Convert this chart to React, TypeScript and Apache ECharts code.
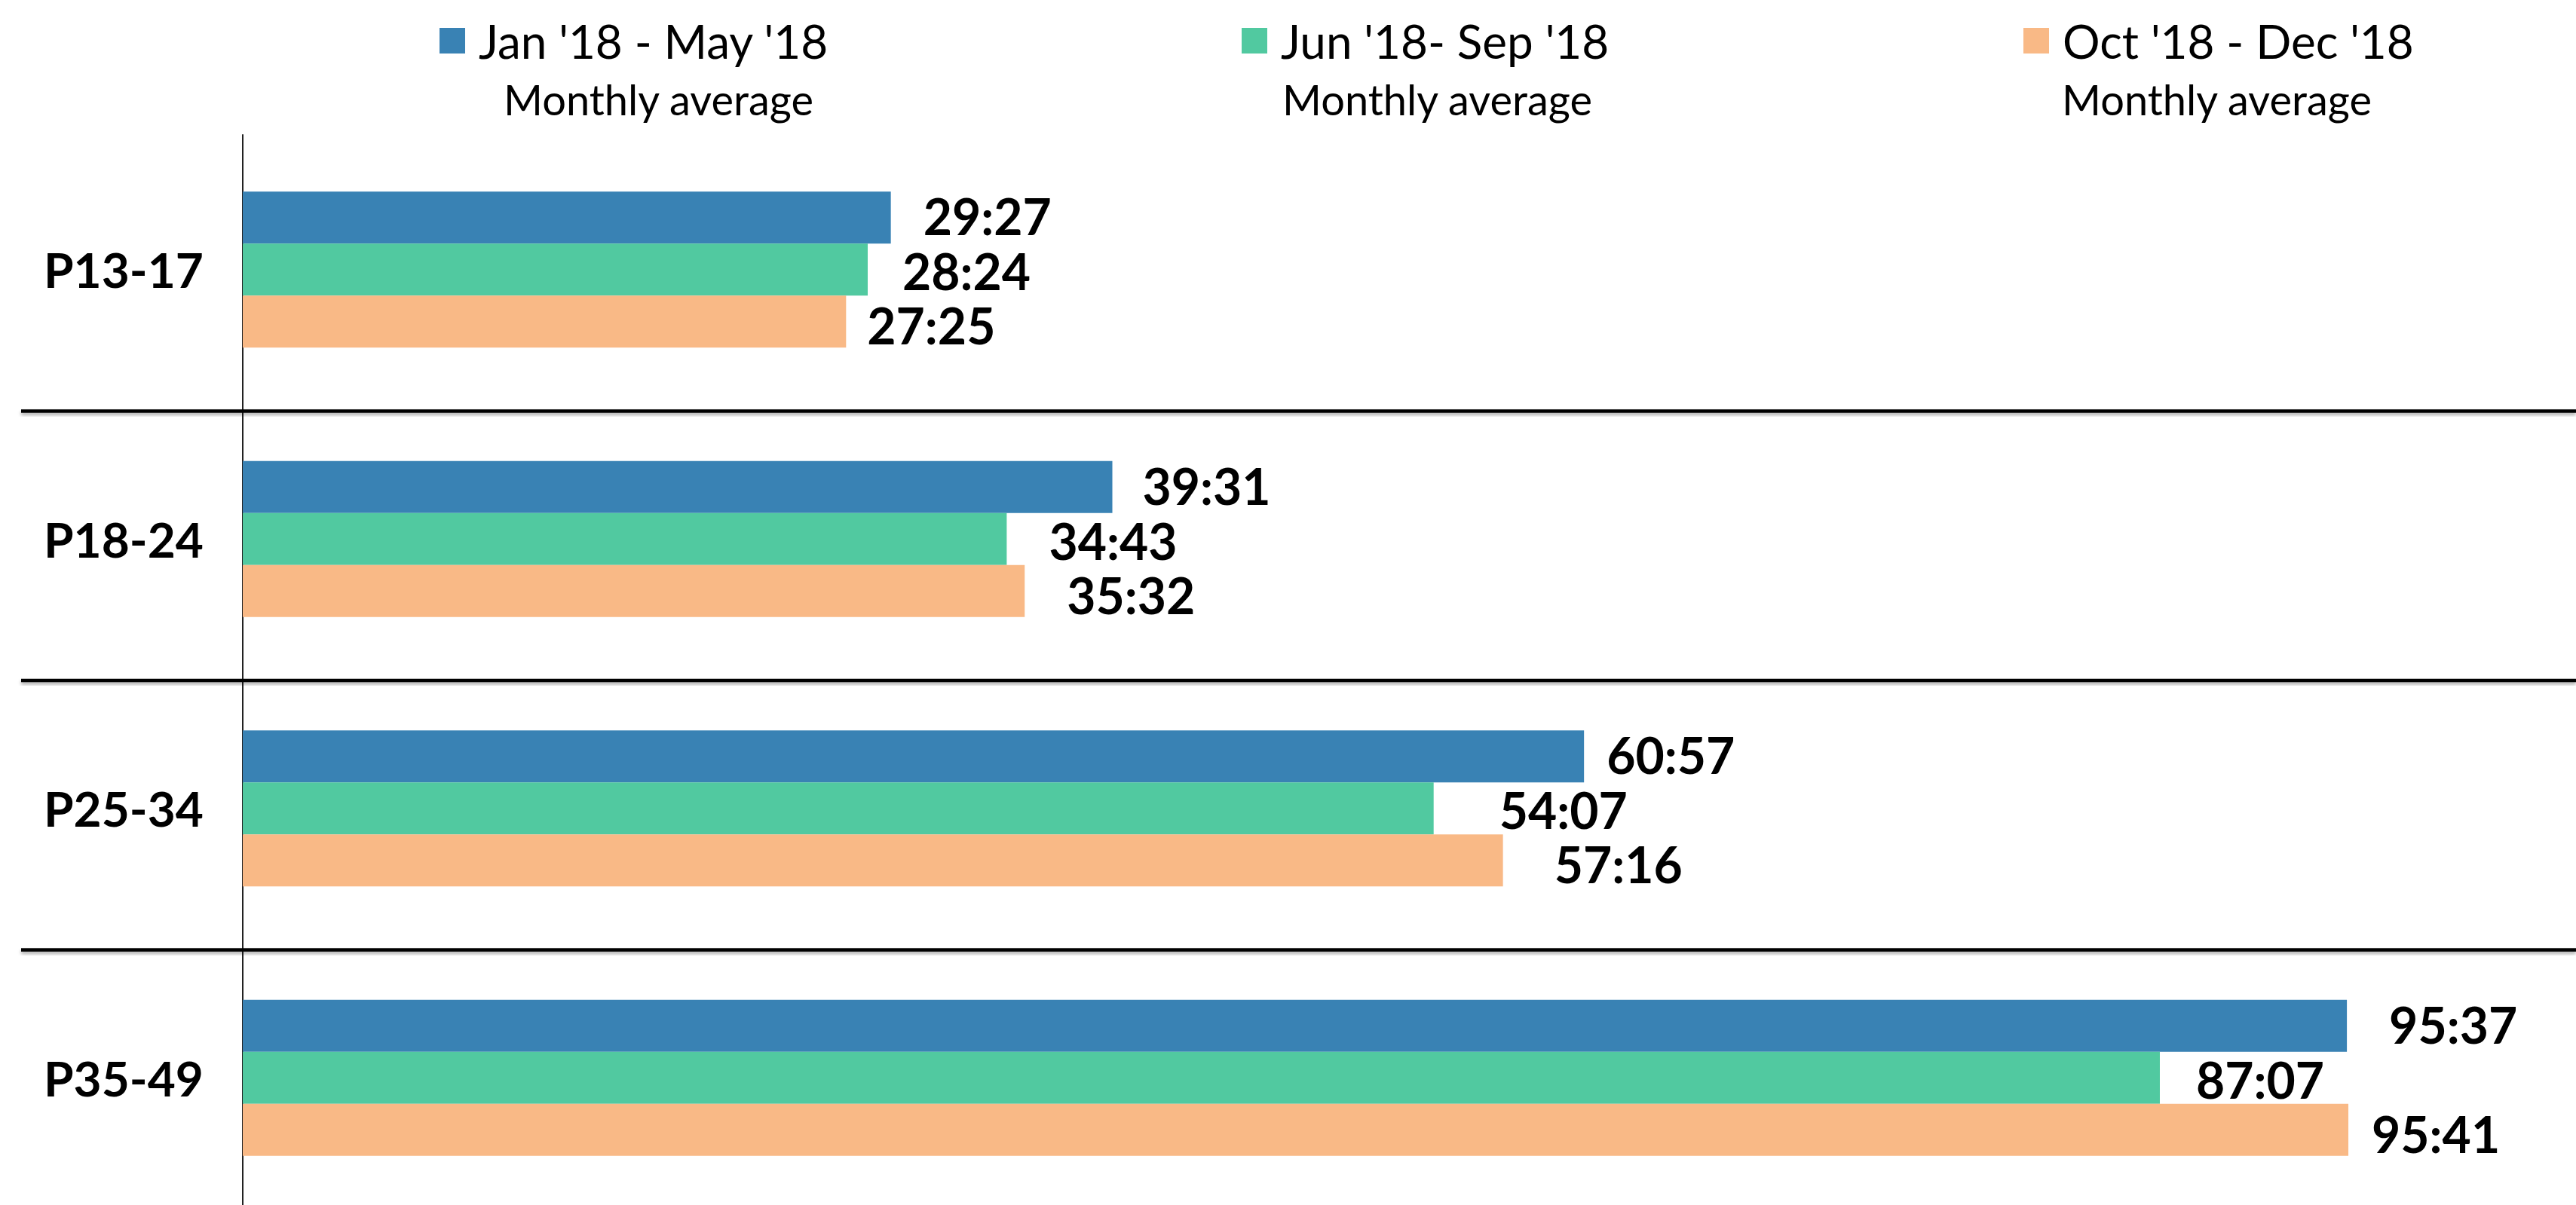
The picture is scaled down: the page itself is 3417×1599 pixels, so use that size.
import React, { useEffect, useRef } from 'react';
import * as echarts from 'echarts';

// ---- data ----
const CATEGORIES = ['P13-17', 'P18-24', 'P25-34', 'P35-49'];
const SERIES_NAMES = ["Jan '18 - May '18", "Jun '18- Sep '18", "Oct '18 - Dec '18"];
const SUBTITLE = 'Monthly average';
const JAN_MAY = ['29:27', '39:31', '60:57', '95:37'];
const JUN_SEP = ['28:24', '34:43', '54:07', '87:07'];
const OCT_DEC = ['27:25', '35:32', '57:16', '95:41'];

// ---- styles ----
const COLORS = ['#3982B4', '#51C9A0', '#F9B986'];
const LABEL_GAP_JAN_MAY = [43, 40, 30, 56];
const LABEL_GAP_JUN_SEP = [46, 56, 87, 48];
const LABEL_GAP_OCT_DEC = [28, 56, 68, 31];
const LABEL_DY = [-2, 2, 5];
const LEGEND_LEFT = [583, 1647, 2684];
const SUBTITLE_LEFT = [668, 1701, 2735];
const FONT = 'Lato, "Open Sans", sans-serif';
const GRID = { left: 322, top: 179, width: 3065, height: 1430 };

const toMinutes = (s: string) => {
  const [m, sec] = s.split(':').map(Number);
  return m + sec / 60;
};

export default function App() {
  const ref = useRef<HTMLDivElement>(null);

  useEffect(() => {
    const chart = echarts.init(ref.current!, null, { renderer: 'svg' });
    const seriesStrings = [JAN_MAY, JUN_SEP, OCT_DEC];
    const gaps = [LABEL_GAP_JAN_MAY, LABEL_GAP_JUN_SEP, LABEL_GAP_OCT_DEC];

    const series = seriesStrings.map((arr, si) => ({
      type: 'bar',
      name: SERIES_NAMES[si],
      barWidth: 69,
      barGap: '0%',
      itemStyle: { color: COLORS[si] },
      label: {
        show: true,
        position: 'right',
        offset: [0, LABEL_DY[si]],
        fontFamily: FONT,
        fontWeight: 'bold',
        fontSize: 66,
        color: '#000',
        formatter: (p: any) => arr[p.dataIndex],
      },
      data: arr.map((s, i) => ({
        value: toMinutes(s),
        label: { distance: gaps[si][i] },
      })),
    }));

    const option: any = {
      animation: false,
      backgroundColor: '#fff',
      legend: SERIES_NAMES.map((n, i) => ({
        data: [n],
        left: LEGEND_LEFT[i],
        top: 22,
        padding: 0,
        icon: 'rect',
        itemWidth: 34,
        itemHeight: 34,
        selectedMode: false,
        textStyle: {
          fontFamily: FONT,
          fontSize: 62,
          lineHeight: 64,
          color: '#000',
          padding: [0, 0, 0, 13],
        },
      })),
      grid: { ...GRID, containLabel: false },
      xAxis: {
        type: 'value',
        min: 0,
        max: 105,
        show: false,
      },
      yAxis: {
        type: 'category',
        data: CATEGORIES,
        inverse: true,
        axisLine: { show: true, lineStyle: { color: '#222', width: 2 } },
        axisTick: { show: false },
        splitLine: { show: false },
        axisLabel: {
          align: 'left',
          margin: 264,
          fontFamily: FONT,
          fontWeight: 'bold',
          fontSize: 64,
          color: '#000',
        },
      },
      series,
    };
    chart.setOption(option);

    const band = GRID.height / CATEGORIES.length;
    const yOf = (c: string, i: number) => {
      let v: any;
      try {
        v = chart.convertToPixel({ gridIndex: 0 } as any, [0, c]);
      } catch (e) {
        v = null;
      }
      const y = Array.isArray(v) ? v[1] : NaN;
      return isFinite(y) ? y : GRID.top + band * (i + 0.5);
    };
    const sepYs = CATEGORIES.slice(0, -1).map(
      (c, i) => (yOf(c, i) + yOf(CATEGORIES[i + 1], i + 1)) / 2 + 9
    );

    chart.setOption({
      graphic: [
        ...SUBTITLE_LEFT.map((x) => ({
          type: 'text',
          x,
          y: 131,
          style: {
            text: SUBTITLE,
            font: `56px ${FONT}`,
            fill: '#000',
            align: 'left',
            verticalAlign: 'middle',
          },
        })),
        ...sepYs.map((y) => ({
          type: 'rect',
          z: 100,
          shape: { x: 28, y: y - 2.25, width: 3417 - 28, height: 4.5 },
          style: {
            fill: '#000',
            shadowColor: 'rgba(0,0,0,0.35)',
            shadowBlur: 4,
            shadowOffsetY: 3,
          },
        })),
      ],
    });

    return () => chart.dispose();
  }, []);

  return (
    <div
      style={{
        position: 'fixed',
        left: 0,
        top: 0,
        width: 3417,
        height: 1599,
        overflow: 'hidden',
        background: '#fff',
      }}
    >
      <div ref={ref} style={{ width: 3417, height: 1625 }} />
    </div>
  );
}
